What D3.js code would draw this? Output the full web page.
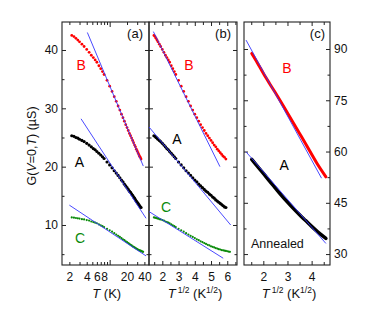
<!DOCTYPE html>
<html>
<head>
<meta charset="utf-8">
<script src="https://cdn.jsdelivr.net/npm/d3@7"></script>
<style>
  body { margin: 0; background: #fff; }
  text { font-family: "Liberation Sans", Arial, sans-serif; }
</style>
</head>
<body>
<div class="chart"></div>
<script>
// temperatures (K) and conductance G (uS) for the as-grown samples
const tempK = [2.2, 2.4, 2.6, 2.8, 3.0, 3.3, 3.6, 4.0, 4.4, 4.8, 5.2, 5.6, 6, 6.5, 7, 7.5, 8, 9, 10, 11,
  12, 13, 14, 15, 16, 17, 18, 19, 20, 21, 22, 23, 24, 25, 26, 27, 28, 29, 30, 31, 32, 33, 34, 35];
const gB = [42.5, 42.3, 42.0, 41.7, 41.4, 41.0, 40.6, 40.1, 39.6, 39.1, 38.7, 38.3, 37.9, 37.3, 36.8, 36.3, 35.8, 34.8, 33.8, 32.9,
  32.0, 31.2, 30.4, 29.7, 29.0, 28.4, 27.8, 27.2, 26.7, 26.2, 25.7, 25.3, 24.9, 24.5, 24.1, 23.7, 23.4, 23.0, 22.7, 22.4, 22.1, 21.8, 21.6, 21.3];
const gA = [25.3, 25.2, 25.0, 24.9, 24.7, 24.5, 24.3, 24.0, 23.7, 23.4, 23.1, 22.9, 22.6, 22.3, 22.0, 21.7, 21.4, 20.8, 20.3, 19.8,
  19.3, 18.9, 18.5, 18.1, 17.7, 17.4, 17.0, 16.7, 16.4, 16.1, 15.8, 15.6, 15.3, 15.1, 14.8, 14.6, 14.3, 14.1, 13.9, 13.7, 13.5, 13.3, 13.1, 13.0];
const tempC = [2.2, 2.4, 2.6, 2.8, 3.0, 3.3, 3.6, 4.0, 4.4, 4.8, 5.2, 5.6, 6, 6.5, 7, 7.5, 8, 9, 10, 11,
  12, 13, 14, 15, 16, 17, 18, 19, 20, 21, 22, 23, 24, 25, 26, 27, 28, 29, 30, 31, 32, 33, 34, 35, 36, 37, 38];
const gC = [11.3, 11.25, 11.2, 11.15, 11.1, 11.0, 10.95, 10.85, 10.75, 10.6, 10.5, 10.4, 10.3, 10.1, 9.95, 9.8, 9.65, 9.35, 9.1, 8.85,
  8.6, 8.35, 8.15, 7.95, 7.75, 7.55, 7.4, 7.2, 7.05, 6.9, 6.75, 6.6, 6.5, 6.35, 6.25, 6.15, 6.05, 5.95, 5.85, 5.8, 5.7, 5.65, 5.6, 5.55, 5.5, 5.45, 5.4];

// annealed samples, x is T^1/2
const sqrtTAnn = [1.52, 1.75, 2.0, 2.25, 2.5, 2.75, 3.0, 3.25, 3.5, 3.75, 4.0, 4.25, 4.59];
const gAnnB = [88.7, 86.0, 82.9, 80.0, 77.2, 74.3, 71.3, 68.3, 65.3, 62.3, 59.2, 56.2, 52.6];
const gAnnA = [57.7, 55.7, 53.6, 51.4, 49.3, 47.2, 45.2, 43.3, 41.5, 39.8, 38.1, 36.5, 34.6];

// fitted straight lines [x, G] end points
const fitB_a = [[4.1, 43.0], [38.3, 20.1]];
const fitA_a = [[3.19, 28.2], [42.7, 11.15]];
const fitC_a = [[2.0, 13.4], [42.7, 4.7]];
const fitB_b = [[1.45, 43.15], [5.55, 20.0]];
const fitA_b = [[1.18, 26.8], [6.21, 10.0]];
const fitC_b = [[1.18, 12.3], [5.75, 4.3]];
const fitB_c = [[1.285, 92.6], [4.41, 52.2]];
const fitA_c = [[1.285, 59.9], [4.59, 33.1]];

// tick values
const yTicksAB = [10, 20, 30, 40];
const yMinorAB = [5, 15, 25, 35];
const yTicksC = [30, 45, 60, 75, 90];
const yMinorC = [37.5, 52.5, 67.5, 82.5];
const xLabelsA = [2, 4, 6, 8, 20, 40];
const xMinorA = [2, 3, 4, 5, 6, 7, 8, 9, 20, 30, 40];
const xMajorA = [10];
const xLabelsB = [2, 3, 4, 5, 6];
const xMinorB = [1.5, 2.5, 3.5, 4.5, 5.5, 6.5];
const xLabelsC = [2, 3, 4];
const xMinorC = [1.5, 2.5, 3.5, 4.5];

const width = 371, height = 326;
const topY = 22, bottomY = 265;
const red = "#ff0000", green = "#0a8a0a", blue = "#3535ff";

const svg = d3.select(".chart").append("svg")
  .attr("width", width).attr("height", height)
  .style("display", "block");

// scales
const yAB = d3.scaleLinear().domain([3.14, 44.8]).range([bottomY, topY]);
const yC = d3.scaleLinear().domain([26.8, 97.9]).range([bottomY, topY]);
const xA = d3.scaleLog().domain([1.49, 48.1]).range([62, 149]);
const xB = d3.scaleLinear().domain([1.18, 6.6]).range([149, 237]);
const xC = d3.scaleLinear().domain([1.2, 4.76]).range([244, 330]);

// draws tick marks (no labels) with an axis generator
function ticks(axisFn, scale, values, size, pos) {
  const g = svg.append("g").attr("transform", pos)
    .call(axisFn(scale).tickValues(values).tickSize(size).tickSizeOuter(0).tickFormat(""));
  g.select(".domain").remove();
  g.selectAll("line").attr("stroke", "#222");
}
function labels(axisFn, scale, values, pad, pos, fmt) {
  const g = svg.append("g").attr("transform", pos)
    .call(axisFn(scale).tickValues(values).tickSize(0).tickPadding(pad).tickFormat(fmt || d3.format("d")));
  g.select(".domain").remove();
  g.selectAll("text").attr("font-size", 12).attr("fill", "#111")
    .style("font-family", "'Liberation Sans', Arial, sans-serif");
}

// panel (a)
ticks(d3.axisLeft, yAB, yTicksAB, -4, "translate(62,0)");
ticks(d3.axisLeft, yAB, yMinorAB, -2.5, "translate(62,0)");
ticks(d3.axisRight, yAB, yTicksAB, -4, "translate(149,0)");
ticks(d3.axisRight, yAB, yMinorAB, -2.5, "translate(149,0)");
ticks(d3.axisBottom, xA, xMinorA, -3, `translate(0,${bottomY})`);
ticks(d3.axisBottom, xA, xMajorA, -5, `translate(0,${bottomY})`);
ticks(d3.axisTop, xA, xMinorA, -3, `translate(0,${topY})`);
ticks(d3.axisTop, xA, xMajorA, -5, `translate(0,${topY})`);
labels(d3.axisLeft, yAB, yTicksAB, 4, "translate(62,0)");
labels(d3.axisBottom, xA, xLabelsA, 7, `translate(0,${bottomY})`);

// panel (b)
ticks(d3.axisLeft, yAB, yTicksAB, -4, "translate(149,0)");
ticks(d3.axisLeft, yAB, yMinorAB, -2.5, "translate(149,0)");
ticks(d3.axisRight, yAB, yTicksAB, -4, "translate(237,0)");
ticks(d3.axisRight, yAB, yMinorAB, -2.5, "translate(237,0)");
ticks(d3.axisBottom, xB, xLabelsB, -4, `translate(0,${bottomY})`);
ticks(d3.axisBottom, xB, xMinorB, -3, `translate(0,${bottomY})`);
ticks(d3.axisTop, xB, xLabelsB, -4, `translate(0,${topY})`);
ticks(d3.axisTop, xB, xMinorB, -3, `translate(0,${topY})`);
labels(d3.axisBottom, xB, xLabelsB, 7, `translate(0,${bottomY})`);

// panel (c)
ticks(d3.axisLeft, yC, yTicksC, -4, "translate(244,0)");
ticks(d3.axisLeft, yC, yMinorC, -2.5, "translate(244,0)");
ticks(d3.axisRight, yC, yTicksC, -4, "translate(330,0)");
ticks(d3.axisRight, yC, yMinorC, -2.5, "translate(330,0)");
ticks(d3.axisBottom, xC, xLabelsC, -4, `translate(0,${bottomY})`);
ticks(d3.axisBottom, xC, xMinorC, -3, `translate(0,${bottomY})`);
ticks(d3.axisTop, xC, xLabelsC, -4, `translate(0,${topY})`);
ticks(d3.axisTop, xC, xMinorC, -3, `translate(0,${topY})`);
labels(d3.axisRight, yC, yTicksC, 4, "translate(330,0)");
labels(d3.axisBottom, xC, xLabelsC, 7, `translate(0,${bottomY})`);

// frames
[[62, 149], [149, 237], [244, 330]].forEach(([x0, x1]) => {
  svg.append("rect")
    .attr("x", x0).attr("y", topY).attr("width", x1 - x0).attr("height", bottomY - topY)
    .attr("fill", "none").attr("stroke", "#222").attr("stroke-width", 1.1);
});

// scatter points
function dots(xs, ys, xScale, yScale, xf, color, r) {
  svg.append("g").selectAll("circle")
    .data(xs.map((x, i) => [x, ys[i]]))
    .enter().append("circle")
    .attr("cx", d => xScale(xf(d[0])))
    .attr("cy", d => yScale(d[1]))
    .attr("r", r)
    .attr("fill", color);
}
const ident = t => t;
dots(tempK, gB, xA, yAB, ident, red, 1.4);
dots(tempK, gA, xA, yAB, ident, "#000", 1.6);
dots(tempC, gC, xA, yAB, ident, green, 1.1);
dots(tempK, gB, xB, yAB, Math.sqrt, red, 1.4);
dots(tempK, gA, xB, yAB, Math.sqrt, "#000", 1.6);
dots(tempC, gC, xB, yAB, Math.sqrt, green, 1.1);

// annealed curves as thick lines
function curve(xs, ys, xScale, yScale, color, w) {
  svg.append("path")
    .datum(xs.map((x, i) => [x, ys[i]]))
    .attr("d", d3.line().x(d => xScale(d[0])).y(d => yScale(d[1])).curve(d3.curveMonotoneX))
    .attr("fill", "none").attr("stroke", color).attr("stroke-width", w)
    .attr("stroke-linecap", "round");
}
curve(sqrtTAnn, gAnnB, xC, yC, red, 3);
curve(sqrtTAnn, gAnnA, xC, yC, "#000", 3.5);

// fit lines
function fit(pts, xScale, yScale) {
  svg.append("path")
    .datum(pts)
    .attr("d", d3.line().x(d => xScale(d[0])).y(d => yScale(d[1])))
    .attr("stroke", blue).attr("stroke-width", 0.9).attr("fill", "none");
}
fit(fitB_a, xA, yAB); fit(fitA_a, xA, yAB); fit(fitC_a, xA, yAB);
fit(fitB_b, xB, yAB); fit(fitA_b, xB, yAB); fit(fitC_b, xB, yAB);
fit(fitB_c, xC, yC); fit(fitA_c, xC, yC);

// sample letters
const letters = [
  ["B", xA, yAB, 3.19, 36.6, red], ["A", xA, yAB, 3.0, 19.94, "#000"], ["C", xA, yAB, 3.06, 6.91, green],
  ["B", xB, yAB, 3.64, 36.6, red], ["A", xB, yAB, 2.9, 23.9, "#000"], ["C", xB, yAB, 2.23, 12.2, green],
  ["B", xC, yC, 2.98, 83.0, red], ["A", xC, yC, 2.86, 54.6, "#000"]
];
letters.forEach(([t, xs, ys, xv, yv, c]) => {
  svg.append("text").attr("x", xs(xv)).attr("y", ys(yv))
    .attr("text-anchor", "middle").attr("font-size", 14).attr("fill", c).text(t);
});
svg.append("text").attr("x", xC(1.49)).attr("y", yC(31.8))
  .attr("font-size", 12.5).attr("fill", "#111").text("Annealed");

// panel tags
[["(a)", 143], ["(b)", 231], ["(c)", 325]].forEach(([t, x]) => {
  svg.append("text").attr("x", x).attr("y", 37.5).attr("text-anchor", "end")
    .attr("font-size", 13).attr("fill", "#111").text(t);
});

// y title
const yt = svg.append("text").attr("transform", "translate(36,146) rotate(-90)")
  .attr("text-anchor", "middle").attr("font-size", 12.5).attr("fill", "#111");
yt.append("tspan").text("G(");
yt.append("tspan").attr("font-style", "italic").text("V");
yt.append("tspan").text("=0,");
yt.append("tspan").attr("font-style", "italic").text("T");
yt.append("tspan").text(") (\u00b5S)");

// x titles
const xt1 = svg.append("text").attr("x", 106.7).attr("y", 297.5)
  .attr("text-anchor", "middle").attr("font-size", 13).attr("fill", "#111");
xt1.append("tspan").attr("font-style", "italic").text("T");
xt1.append("tspan").text(" (K)");

function sqrtTitle(cx) {
  const t = svg.append("text").attr("x", cx).attr("y", 297.5)
    .attr("text-anchor", "middle").attr("font-size", 13).attr("fill", "#111");
  t.append("tspan").attr("font-style", "italic").text("T");
  t.append("tspan").attr("font-size", 8.5).attr("dx", 2).attr("dy", -5).text("1/2");
  t.append("tspan").attr("dy", 5).text(" (K");
  t.append("tspan").attr("font-size", 8.5).attr("dy", -5).text("1/2");
  t.append("tspan").attr("dy", 5).text(")");
}
sqrtTitle(195);
sqrtTitle(289);
</script>
</body>
</html>
